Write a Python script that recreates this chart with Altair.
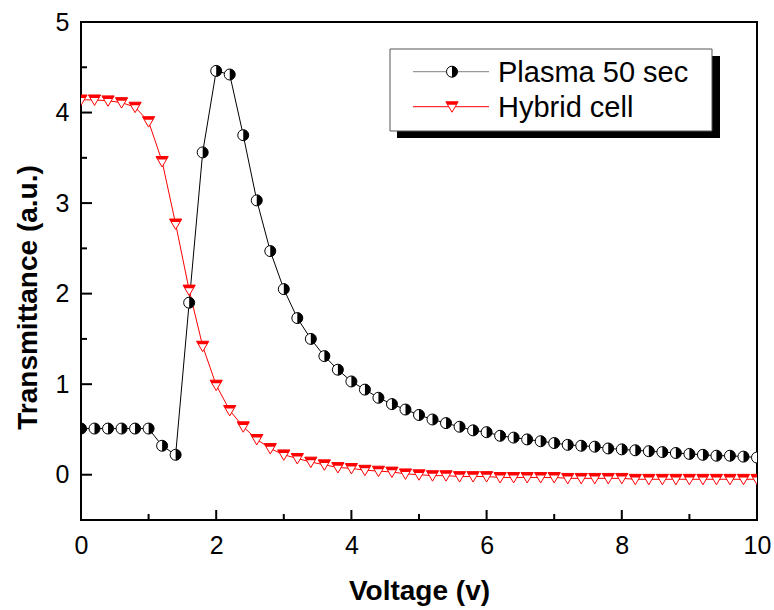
import altair as alt
import pandas as pd

# ---------------- data ----------------
voltage = [0.0, 0.2, 0.4, 0.6, 0.8, 1.0, 1.2, 1.4, 1.6, 1.8,
           2.0, 2.2, 2.4, 2.6, 2.8, 3.0, 3.2, 3.4, 3.6, 3.8,
           4.0, 4.2, 4.4, 4.6, 4.8, 5.0, 5.2, 5.4, 5.6, 5.8,
           6.0, 6.2, 6.4, 6.6, 6.8, 7.0, 7.2, 7.4, 7.6, 7.8,
           8.0, 8.2, 8.4, 8.6, 8.8, 9.0, 9.2, 9.4, 9.6, 9.8, 10.0]

plasma_50 = [0.51, 0.51, 0.51, 0.51, 0.51, 0.51, 0.32, 0.22, 1.90, 3.56,
             4.46, 4.42, 3.75, 3.03, 2.47, 2.05, 1.73, 1.50, 1.31, 1.16,
             1.03, 0.94, 0.85, 0.78, 0.72, 0.66, 0.61, 0.57, 0.53, 0.49,
             0.47, 0.43, 0.41, 0.39, 0.37, 0.35, 0.33, 0.32, 0.31, 0.29,
             0.28, 0.27, 0.26, 0.25, 0.24, 0.23, 0.22, 0.21, 0.21, 0.20, 0.19]

hybrid_cell = [4.14, 4.14, 4.13, 4.11, 4.06, 3.90, 3.46, 2.77, 2.04, 1.42,
               0.99, 0.71, 0.53, 0.39, 0.29, 0.22, 0.18, 0.14, 0.11, 0.08,
               0.07, 0.05, 0.04, 0.03, 0.01, 0.00, -0.01, -0.01, -0.02, -0.02,
               -0.02, -0.03, -0.03, -0.03, -0.03, -0.03, -0.04, -0.04, -0.04, -0.04,
               -0.04, -0.05, -0.05, -0.05, -0.05, -0.05, -0.05, -0.05, -0.05, -0.05, -0.05]

x_major_ticks = [0, 2, 4, 6, 8, 10]
x_minor_ticks = [1, 3, 5, 7, 9]
y_major_ticks = [0, 1, 2, 3, 4, 5]
y_minor_ticks = [-0.5, 0.5, 1.5, 2.5, 3.5, 4.5]

series_names = ["Plasma 50 sec", "Hybrid cell"]

# ---------------- layout ----------------
W, H = 676, 498
FONT = "Liberation Sans"

plasma_df = pd.DataFrame({"x": voltage, "y": plasma_50})
hybrid_df = pd.DataFrame({"x": voltage, "y": hybrid_cell})

xscale = alt.Scale(domain=[0, 10], nice=False, zero=False)
yscale = alt.Scale(domain=[-0.5, 5], nice=False, zero=False)

xaxis = alt.Axis(values=x_major_ticks, ticks=False, tickSize=0, domain=False, grid=False,
                 labelFont=FONT, labelFontSize=25, labelColor="black", labelPadding=13,
                 labelFlush=False, labelOverlap=False,
                 title="Voltage (v)", titleFont=FONT, titleFontSize=28, titleFontWeight="bold",
                 titleColor="black", titleY=79, titleBaseline="alphabetic")
yaxis = alt.Axis(values=y_major_ticks, ticks=False, tickSize=0, domain=False, grid=False,
                 labelFont=FONT, labelFontSize=25, labelColor="black", labelPadding=12,
                 labelFlush=False, labelOverlap=False,
                 title="Transmittance (a.u.)", titleFont=FONT, titleFontSize=28, titleFontWeight="bold",
                 titleColor="black", titleAngle=-90, titleX=-39, titleY=275,
                 titleBaseline="bottom", titleAlign="center")

X = alt.X("x:Q", scale=xscale, axis=xaxis)
Y = alt.Y("y:Q", scale=yscale, axis=yaxis)

CIRCLE = "M0,-1C0.5523,-1,1,-0.5523,1,0C1,0.5523,0.5523,1,0,1C-0.5523,1,-1,0.5523,-1,0C-1,-0.5523,-0.5523,-1,0,-1Z"
HALF_R = "M0,-1C0.5523,-1,1,-0.5523,1,0C1,0.5523,0.5523,1,0,1Z"
TRI = "M-1,-0.8L1,-0.8L0,0.9Z"
TRI_TOP = "M-1,-0.8L1,-0.8L0.706,-0.3L-0.706,-0.3Z"
CSIZE = 121
TSIZE = 150

plasma_line = alt.Chart(plasma_df).mark_line(color="black", strokeWidth=1, clip=True).encode(x=X, y=Y)
hybrid_line = alt.Chart(hybrid_df).mark_line(color="#ff0000", strokeWidth=1, clip=True).encode(x=X, y=Y)

plasma_pts = alt.Chart(plasma_df).mark_point(shape=CIRCLE, size=CSIZE, filled=True, fill="white",
                                             stroke="black", strokeWidth=1, opacity=1, clip=True).encode(x=X, y=Y)
plasma_half = alt.Chart(plasma_df).mark_point(shape=HALF_R, size=CSIZE, filled=True, fill="black",
                                              strokeWidth=0, opacity=1, clip=True).encode(x=X, y=Y)
hybrid_pts = alt.Chart(hybrid_df).mark_point(shape=TRI, size=TSIZE, filled=True, fill="white",
                                             stroke="#ff0000", strokeWidth=1, opacity=1, clip=True).encode(x=X, y=Y)
hybrid_half = alt.Chart(hybrid_df).mark_point(shape=TRI_TOP, size=TSIZE, filled=True, fill="#ff0000",
                                              strokeWidth=0, opacity=1, clip=True).encode(x=X, y=Y)

# inward ticks
xmaj = alt.Chart(pd.DataFrame({"x": x_major_ticks})).mark_rule(color="black", strokeWidth=2).encode(
    x=X, y=alt.value(H), y2=alt.value(H - 10))
xmin = alt.Chart(pd.DataFrame({"x": x_minor_ticks})).mark_rule(color="black", strokeWidth=2).encode(
    x=X, y=alt.value(H), y2=alt.value(H - 6))
ymaj = alt.Chart(pd.DataFrame({"y": y_major_ticks})).mark_rule(color="black", strokeWidth=2).encode(
    y=Y, x=alt.value(0), x2=alt.value(11))
ymin = alt.Chart(pd.DataFrame({"y": y_minor_ticks})).mark_rule(color="black", strokeWidth=2).encode(
    y=Y, x=alt.value(0), x2=alt.value(6))

# manual legend (Origin style with shadow)
one = pd.DataFrame({"a": [0]})
shadow = alt.Chart(one).mark_rect(fill="black").encode(
    x=alt.value(316), x2=alt.value(639), y=alt.value(34), y2=alt.value(116))
box = alt.Chart(one).mark_rect(fill="white", stroke="#555555", strokeWidth=1).encode(
    x=alt.value(309), x2=alt.value(631), y=alt.value(27), y2=alt.value(109))
row1, row2 = 49.7, 84.7
leg_line1 = alt.Chart(one).mark_rule(color="#808080", strokeWidth=1).encode(
    x=alt.value(332), x2=alt.value(408), y=alt.value(row1))
leg_line2 = alt.Chart(one).mark_rule(color="#ff0000", strokeWidth=1).encode(
    x=alt.value(332), x2=alt.value(408), y=alt.value(row2))
leg_c = alt.Chart(one).mark_point(shape=CIRCLE, size=CSIZE, filled=True, fill="white", stroke="black",
                                  strokeWidth=1, opacity=1).encode(x=alt.value(371), y=alt.value(row1))
leg_ch = alt.Chart(one).mark_point(shape=HALF_R, size=CSIZE, filled=True, fill="black",
                                   strokeWidth=0, opacity=1).encode(x=alt.value(371), y=alt.value(row1))
leg_t = alt.Chart(one).mark_point(shape=TRI, size=TSIZE, filled=True, fill="white", stroke="#ff0000",
                                  strokeWidth=1, opacity=1).encode(x=alt.value(371), y=alt.value(row2))
leg_th = alt.Chart(one).mark_point(shape=TRI_TOP, size=TSIZE, filled=True, fill="#ff0000",
                                   strokeWidth=0, opacity=1).encode(x=alt.value(371), y=alt.value(row2))
leg_txt1 = alt.Chart(one).mark_text(align="left", baseline="alphabetic", font=FONT, fontSize=29,
                                    color="black").encode(x=alt.value(417), y=alt.value(60),
                                                          text=alt.value(series_names[0]))
leg_txt2 = alt.Chart(one).mark_text(align="left", baseline="alphabetic", font=FONT, fontSize=29,
                                    color="black").encode(x=alt.value(417), y=alt.value(95),
                                                          text=alt.value(series_names[1]))

chart = alt.layer(
    plasma_line, hybrid_line, plasma_pts, plasma_half, hybrid_pts, hybrid_half,
    xmaj, xmin, ymaj, ymin,
    shadow, box, leg_line1, leg_line2, leg_c, leg_ch, leg_t, leg_th, leg_txt1, leg_txt2
).properties(
    width=W, height=H,
    autosize=alt.AutoSizeParams(type="none"),
    padding={"left": 81, "top": 22, "right": 17, "bottom": 90},
    background="white",
).configure_view(stroke="black", strokeWidth=2)

chart.save("out.html", embed_options={"renderer": "svg", "actions": False})
